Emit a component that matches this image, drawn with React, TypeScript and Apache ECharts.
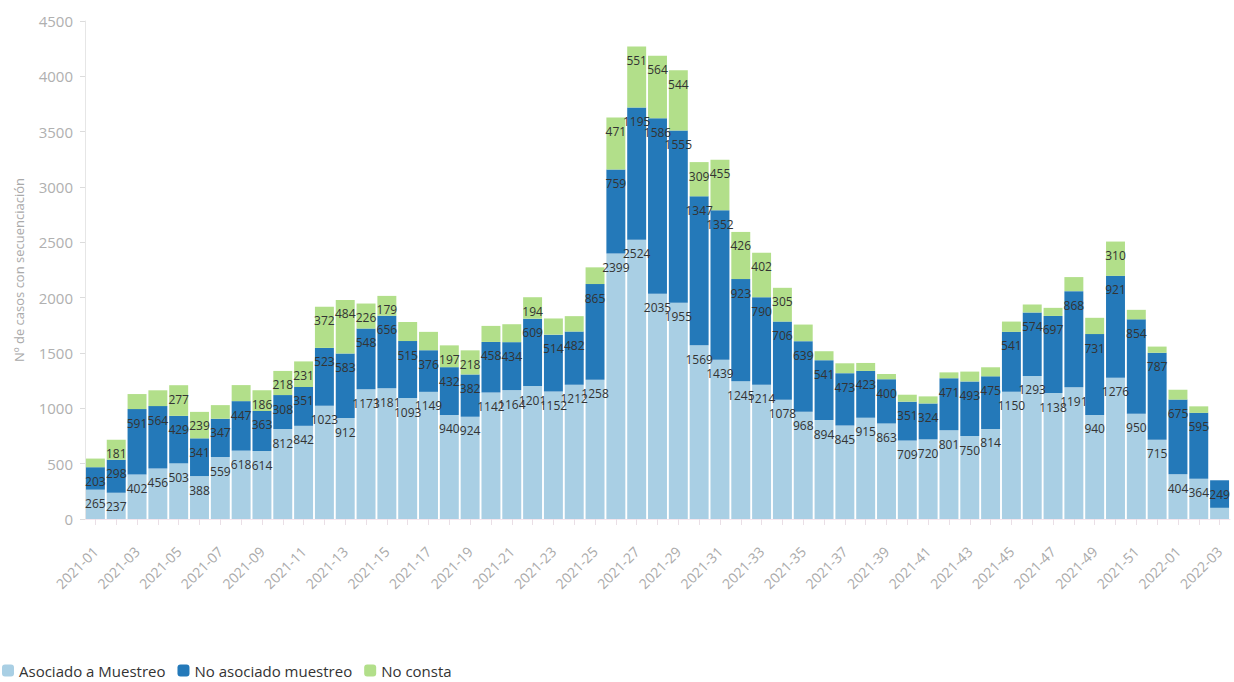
import React, { useEffect, useRef } from "react";
import * as echarts from "echarts";

const weeks = [
  "2021-01","2021-02","2021-03","2021-04","2021-05","2021-06","2021-07","2021-08","2021-09","2021-10",
  "2021-11","2021-12","2021-13","2021-14","2021-15","2021-16","2021-17","2021-18","2021-19","2021-20",
  "2021-21","2021-22","2021-23","2021-24","2021-25","2021-26","2021-27","2021-28","2021-29","2021-30",
  "2021-31","2021-32","2021-33","2021-34","2021-35","2021-36","2021-37","2021-38","2021-39","2021-40",
  "2021-41","2021-42","2021-43","2021-44","2021-45","2021-46","2021-47","2021-48","2021-49","2021-50",
  "2021-51","2021-52","2022-01","2022-02","2022-03",
];

const asociado = [
  265, 237, 402, 456, 503, 388, 559, 618, 614, 812,
  842, 1023, 912, 1173, 1181, 1093, 1149, 940, 924, 1142,
  1164, 1201, 1152, 1212, 1258, 2399, 2524, 2035, 1955, 1569,
  1439, 1245, 1214, 1078, 968, 894, 845, 915, 863, 709,
  720, 801, 750, 814, 1150, 1293, 1138, 1191, 940, 1276,
  950, 715, 404, 364, 101,
];

const noAsociado = [
  203, 298, 591, 564, 429, 341, 347, 447, 363, 308,
  351, 523, 583, 548, 656, 515, 376, 432, 382, 458,
  434, 609, 514, 482, 865, 759, 1195, 1586, 1555, 1347,
  1352, 923, 790, 706, 639, 541, 473, 423, 400, 351,
  324, 471, 493, 475, 541, 574, 697, 868, 731, 921,
  854, 787, 675, 595, 249,
];

const noConsta = [
  78, 181, 136, 143, 277, 239, 123, 145, 186, 218,
  231, 372, 484, 226, 179, 172, 166, 197, 218, 145,
  162, 194, 146, 139, 151, 471, 551, 564, 544, 309,
  455, 426, 402, 305, 150, 81, 89, 72, 47, 63,
  64, 53, 89, 82, 93, 71, 73, 127, 147, 310,
  86, 56, 89, 59, 0,
];

const seriesNames = ["Asociado a Muestreo", "No asociado muestreo", "No consta"];
const colors = ["#a9cfe4", "#2479b9", "#b2df8a"];
const yTitle = "Nº de casos con secuenciación";

const FONT = "'Open Sans', 'Noto Sans', sans-serif";

export default function App() {
  const ref = useRef<HTMLDivElement>(null);
  useEffect(() => {
    if (!ref.current) return;
    const chart = echarts.init(ref.current, null, { renderer: "svg" });
    const label = {
      show: true,
      position: "insideTop" as const,
      distance: 8,
      color: "#333",
      fontSize: 12,
      fontFamily: FONT,
      formatter: (p: any) => (p.value >= 175 ? String(p.value) : ""),
    };
    const dataSets = [asociado, noAsociado, noConsta];
    chart.setOption({
      animation: false,
      textStyle: { fontFamily: FONT },
      color: colors,
      grid: { left: 85, right: 4, top: 21, bottom: 163 },
      legend: {
        left: -3,
        bottom: -1,
        itemWidth: 12,
        itemHeight: 12,
        itemGap: 12,
        icon: "roundRect",
        textStyle: { fontSize: 15, color: "#333", fontFamily: FONT },
        data: seriesNames,
      },
      xAxis: {
        type: "category",
        data: weeks,
        axisLine: { show: true, lineStyle: { color: "#f3e6ee" } },
        axisTick: { show: true, alignWithLabel: true, interval: 0, length: 6, lineStyle: { color: "#eadfe6" } },
        axisLabel: { interval: 1, rotate: 45, color: "#a9a9a9", fontSize: 14, margin: 30, fontFamily: FONT },
      },
      yAxis: {
        type: "value",
        min: 0,
        max: 4500,
        interval: 500,
        name: yTitle,
        nameLocation: "middle",
        nameGap: 60,
        nameTextStyle: { color: "#a9a9a9", fontSize: 13, fontFamily: FONT },
        axisLine: { show: true, lineStyle: { color: "#e6e6e6" } },
        axisTick: { show: true, length: 5, lineStyle: { color: "#dcdcdc" } },
        axisLabel: {
          color: "#b0b0b0",
          fontSize: 15,
          margin: 12,
          fontFamily: FONT,
          formatter: (v: number) => String(v),
        },
        splitLine: { show: false },
      },
      series: seriesNames.map((name, i) => ({
        name,
        type: "bar",
        stack: "total",
        barCategoryGap: "9%",
        data: dataSets[i],
        itemStyle: { color: colors[i] },
        label,
      })),
    });
    return () => chart.dispose();
  }, []);
  return (
    <div
      ref={ref}
      style={{ position: "fixed", left: 0, top: 0, width: 1234, height: 682, background: "#fff" }}
    />
  );
}
